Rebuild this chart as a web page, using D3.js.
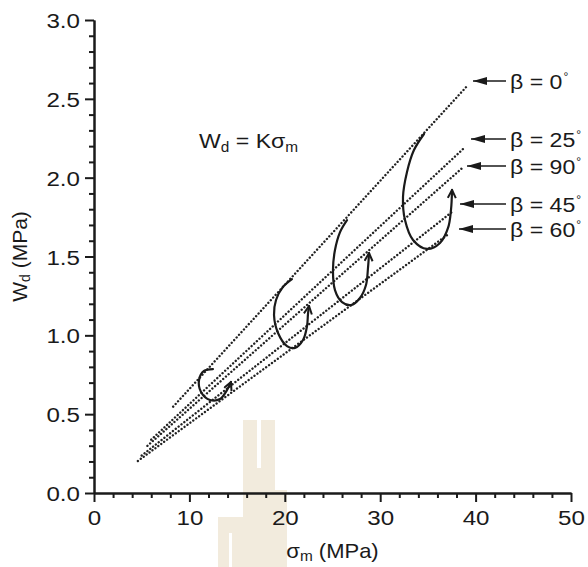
<!DOCTYPE html>
<html>
<head>
<meta charset="utf-8">
<script src="https://cdn.jsdelivr.net/npm/d3@7"></script>
<style>
  html, body { margin: 0; padding: 0; background: #fff; }
  svg { display: block; font-family: "Liberation Sans", Arial, sans-serif; }
</style>
</head>
<body>
<svg id="chart" width="588" height="567"></svg>
<script>
// Linear fits Wd = K * sigma_m, one per orientation angle beta (degrees)
const betaAngles = [0, 25, 90, 45, 60];
const slopeK     = [0.0660, 0.0564, 0.0534, 0.0475, 0.0442];
const fitStartX  = [8.3, 6.0, 5.6, 5.0, 4.6];
const fitEndX    = [39.2, 38.9, 38.55, 37.65, 37.15];

// Axis ticks
const xTicks = [0, 10, 20, 30, 40, 50];
const yTicks = [0.0, 0.5, 1.0, 1.5, 2.0, 2.5, 3.0];

// Loading-cycle paths (sigma_m, Wd), one per loading stage
const cycle1 = [[12.47,0.786],[11.53,0.774],[11.01,0.717],[11.22,0.641],[12.16,0.590],[13.21,0.596],[13.94,0.653],[14.36,0.704]];
const cycle2 = [[20.75,1.357],[19.81,1.307],[19.08,1.224],[18.87,1.129],[19.29,1.015],[20.23,0.932],[21.07,0.920],[21.91,0.970],[22.33,1.059],[22.43,1.135],[22.54,1.186]];
const cycle3 = [[26.52,1.731],[25.79,1.655],[25.26,1.541],[25.05,1.414],[25.26,1.287],[26.00,1.211],[26.94,1.192],[27.88,1.237],[28.51,1.319],[28.72,1.427],[28.83,1.522]];
const cycle4 = [[34.59,2.277],[33.54,2.175],[32.81,2.036],[32.39,1.877],[32.60,1.731],[33.44,1.605],[34.91,1.548],[36.27,1.586],[37.11,1.681],[37.42,1.795],[37.53,1.922]];

// Placement of the beta call-outs (pixels)
const tagLayout = { textX: 510, tailX: 506, tipX: [473, 471, 467, 460, 459], rowY: [81, 139, 166, 204, 229] };

const svg = d3.select("#chart");
const ink = "#1a1a1a";

const x = d3.scaleLinear().domain([0, 50]).range([94, 571]);
const y = d3.scaleLinear().domain([0, 3]).range([493, 20]);

// faint emblem behind the plot
const wm = svg.append("g").attr("fill", "#f2ebdd");
wm.append("rect").attr("x", 243).attr("y", 420).attr("width", 32).attr("height", 147);
wm.append("rect").attr("x", 218).attr("y", 517).attr("width", 25).attr("height", 50);
wm.append("rect").attr("x", 275).attr("y", 490).attr("width", 12).attr("height", 77);
wm.append("rect").attr("x", 257).attr("y", 420).attr("width", 4).attr("height", 48).attr("fill", "#fff");
wm.append("rect").attr("x", 229).attr("y", 533).attr("width", 3).attr("height", 34).attr("fill", "#fff");

// markers
const defs = svg.append("defs");
defs.append("marker")
  .attr("id", "vhead").attr("viewBox", "0 0 10 10")
  .attr("refX", 9).attr("refY", 5)
  .attr("markerWidth", 10).attr("markerHeight", 10)
  .attr("markerUnits", "userSpaceOnUse").attr("orient", "auto")
  .append("path").attr("d", "M1,1 L9,5 L1,9")
  .attr("fill", "none").attr("stroke", ink).attr("stroke-width", 2);
defs.append("marker")
  .attr("id", "solidhead").attr("viewBox", "0 0 14 8")
  .attr("refX", 14).attr("refY", 4)
  .attr("markerWidth", 14).attr("markerHeight", 8)
  .attr("markerUnits", "userSpaceOnUse").attr("orient", "auto")
  .append("path").attr("d", "M0,0 L14,4 L0,8 Z").attr("fill", ink);

// axes: major ticks with labels, minor ticks without
function styleAxis(g) {
  g.select(".domain").attr("stroke", ink).attr("stroke-width", 2);
  g.selectAll(".tick line").attr("stroke", ink).attr("stroke-width", 2);
}
const minorY = d3.range(0, 31).map(d => d / 10).filter(d => Math.round(d * 10) % 5 !== 0);
const minorX = d3.range(0, 51, 2).filter(d => d % 10 !== 0);

svg.append("g").attr("transform", `translate(${x(0)},0)`)
  .call(d3.axisLeft(y).tickValues(minorY).tickSize(5).tickSizeOuter(0).tickFormat(""))
  .call(styleAxis);
const gy = svg.append("g").attr("transform", `translate(${x(0)},0)`)
  .call(d3.axisLeft(y).tickValues(yTicks).tickSize(9).tickSizeOuter(0).tickFormat(d3.format(".1f")))
  .call(styleAxis);
gy.selectAll(".tick text")
  .attr("x", 0).attr("dy", "0.36em")
  .attr("transform", "translate(-14,0) scale(1.15,1)")
  .attr("font-size", 21).attr("font-family", "Liberation Sans, Arial, sans-serif").attr("fill", ink);

svg.append("g").attr("transform", `translate(0,${y(0)})`)
  .call(d3.axisBottom(x).tickValues(minorX).tickSize(5).tickSizeOuter(0).tickFormat(""))
  .call(styleAxis);
const gx = svg.append("g").attr("transform", `translate(0,${y(0)})`)
  .call(d3.axisBottom(x).tickValues(xTicks).tickSize(9).tickSizeOuter(0).tickFormat(d3.format("d")))
  .call(styleAxis);
gx.selectAll(".tick text")
  .attr("y", 0).attr("dy", 0)
  .attr("transform", "translate(0,32) scale(1.15,1)")
  .attr("font-size", 21).attr("font-family", "Liberation Sans, Arial, sans-serif").attr("fill", ink);

// fitted lines, drawn as round dots
const fits = betaAngles.map((b, i) => ({
  beta: b,
  pts: [[fitStartX[i], slopeK[i] * fitStartX[i]], [fitEndX[i], slopeK[i] * fitEndX[i]]]
}));
const lineGen = d3.line().x(d => x(d[0])).y(d => y(d[1]));
svg.append("g").selectAll("path").data(fits).join("path")
  .attr("d", d => lineGen(d.pts))
  .attr("fill", "none").attr("stroke", "#222")
  .attr("stroke-width", 2.4).attr("stroke-linecap", "round")
  .attr("stroke-dasharray", "0.01,3.6");

// loading cycles
const cycleGen = d3.line().x(d => x(d[0])).y(d => y(d[1])).curve(d3.curveCatmullRom.alpha(0.5));
svg.append("g").selectAll("path").data([cycle1, cycle2, cycle3, cycle4]).join("path")
  .attr("d", cycleGen)
  .attr("fill", "none").attr("stroke", ink).attr("stroke-width", 2.2)
  .attr("stroke-linecap", "round")
  .attr("marker-end", "url(#vhead)");

// beta call-outs
const tags = svg.append("g");
betaAngles.forEach((b, i) => {
  const ry = tagLayout.rowY[i];
  tags.append("line")
    .attr("x1", tagLayout.tailX).attr("y1", ry)
    .attr("x2", tagLayout.tipX[i]).attr("y2", ry)
    .attr("stroke", ink).attr("stroke-width", 1.5)
    .attr("marker-end", "url(#solidhead)");
  const t = tags.append("text")
    .attr("transform", `translate(${tagLayout.textX},${ry + 8}) scale(1.1,1)`)
    .attr("font-size", 21).attr("fill", ink);
  t.append("tspan").text(`β = ${b}`);
  t.append("tspan").attr("font-size", 11).attr("dx", 1).attr("dy", -9).text("°");
});

// equation
const eq = svg.append("text").attr("x", 199).attr("y", 148)
  .attr("font-size", 21).attr("fill", ink)
  .attr("transform", "translate(199,0) scale(1.1,1) translate(-199,0)");
eq.append("tspan").text("W");
eq.append("tspan").attr("font-size", 14).attr("dy", 4).text("d");
eq.append("tspan").attr("dy", -4).text(" = Kσ");
eq.append("tspan").attr("font-size", 14).attr("dy", 4).text("m");

// axis titles
const xt = svg.append("text").attr("text-anchor", "middle")
  .attr("transform", `translate(${(x(0) + x(50)) / 2},558) scale(1.1,1)`)
  .attr("font-size", 20).attr("fill", ink);
xt.append("tspan").text("σ");
xt.append("tspan").attr("font-size", 14).attr("dy", 3).text("m");
xt.append("tspan").attr("dy", -3).text(" (MPa)");

const yt = svg.append("text").attr("text-anchor", "middle")
  .attr("transform", `translate(27,${(y(0) + y(3)) / 2}) rotate(-90)`)
  .attr("font-size", 21).attr("fill", ink);
yt.append("tspan").text("W");
yt.append("tspan").attr("font-size", 14).attr("dy", 3).text("d");
yt.append("tspan").attr("dy", -3).text(" (MPa)");
</script>
</body>
</html>
